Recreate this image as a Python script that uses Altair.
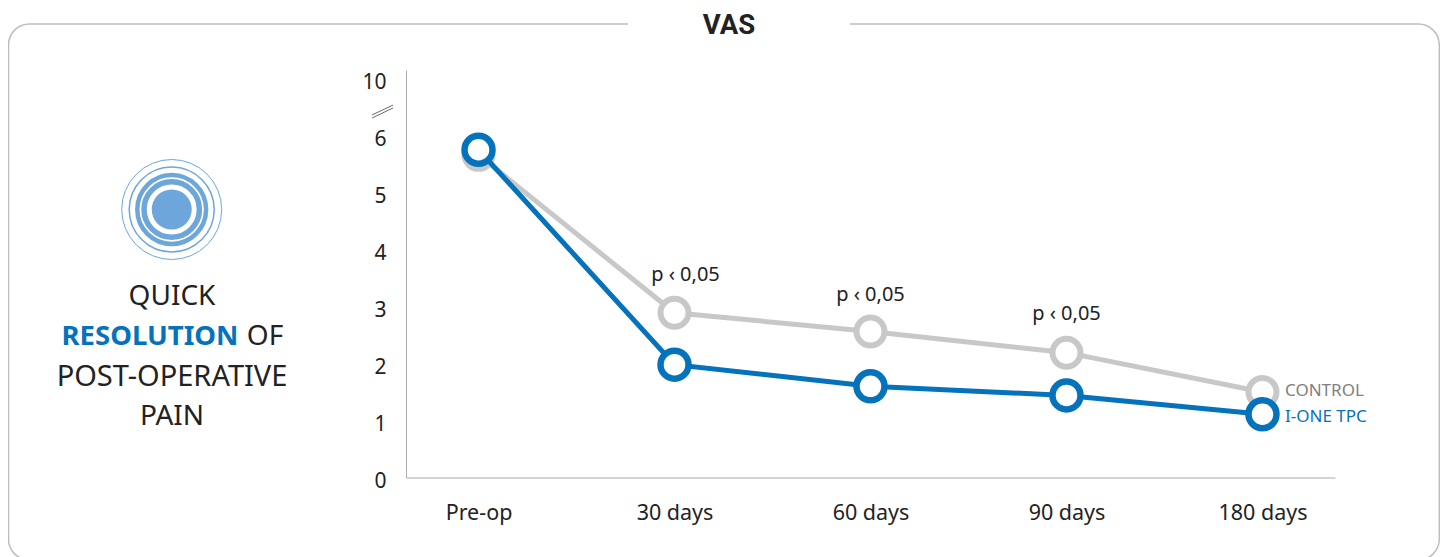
import altair as alt
import pandas as pd

categories = ["Pre-op", "30 days", "60 days", "90 days", "180 days"]
control = [5.66, 2.89, 2.56, 2.19, 1.50]
ione = [5.75, 1.98, 1.60, 1.44, 1.11]
p_text = "p ‹ 0,05"
p_cats = ["30 days", "60 days", "90 days"]
p_vals = [3.56, 3.20, 2.86]

FONT = "Noto Sans"
BLUE = "#0572BC"
GRAY = "#C8C8C8"
ICON = "#6CA6DB"
INK = "#222222"

W, H = 1432, 549

xs = alt.Scale(type="point", domain=categories, range=[398, 1327], padding=0.37)
ys = alt.Scale(domain=[0, 7.149], range=[469.5, 62], nice=False, zero=False)

x_axis = alt.Axis(title=None, orient="bottom", offset=-79.5, ticks=False, grid=False,
                  domainColor="#aaaaaa", domainWidth=1, labelAngle=0, labelFont=FONT,
                  labelFontSize=21.5, labelColor=INK, labelPadding=25)
y_axis = alt.Axis(title=None, orient="left", offset=-398, ticks=False, grid=False,
                  domainColor="#aaaaaa", domainWidth=1, values=[0, 1, 2, 3, 4, 5, 6, 7],
                  labelExpr="datum.value == 7 ? '10' : datum.value", labelFont=FONT,
                  labelFontSize=21, labelColor=INK, labelPadding=20, labelOffset=4,
                  labelFlush=False)

one = pd.DataFrame({"a": [0]})


def txt(s, x, y, size, color=INK, weight="normal", align="center", font=FONT, baseline="middle"):
    return alt.Chart(pd.DataFrame({"t": [s]})).mark_text(
        font=font, fontSize=size, color=color, fontWeight=weight, align=align, baseline=baseline
    ).encode(x=alt.value(x - 8), y=alt.value(y - 8), text="t:N")


def box(x1, x2, y1, y2, **kw):
    return alt.Chart(one).mark_rect(**kw).encode(
        x=alt.value(x1 - 8), x2=alt.value(x2 - 8), y=alt.value(y1 - 8), y2=alt.value(y2 - 8))


def seg(x1, y1, x2, y2):
    return alt.Chart(one).mark_rule(color="#444444", strokeWidth=0.8).encode(
        x=alt.value(x1 - 8), x2=alt.value(x2 - 8), y=alt.value(y1 - 8), y2=alt.value(y2 - 8))


def ring(r, w):
    return alt.Chart(one).mark_point(shape="circle", opacity=1).encode(
        x=alt.value(171.7 - 8), y=alt.value(209.5 - 8), size=alt.value((2 * r) ** 2),
        fill=alt.value("transparent"), stroke=alt.value(ICON), strokeWidth=alt.value(w))


disc = alt.Chart(one).mark_point(shape="circle", opacity=1).encode(
    x=alt.value(171.7 - 8), y=alt.value(209.5 - 8), size=alt.value(1600),
    fill=alt.value(ICON), stroke=alt.value(ICON), strokeWidth=alt.value(0))

frame = box(8.5, 1439.3, 24, 560, fill="transparent", stroke="#bdbdbd", strokeWidth=1.5, cornerRadius=21)
gap = box(628, 850, 18, 32, fill="white")


def series(vals, color, sw):
    d = pd.DataFrame({"cat": categories, "v": vals})
    enc = dict(x=alt.X("cat:N", scale=xs, sort=categories, axis=x_axis),
               y=alt.Y("v:Q", scale=ys, axis=y_axis))
    line = alt.Chart(d).mark_line(color=color, strokeWidth=5).encode(**enc)
    pts = alt.Chart(d).mark_point(shape="circle", opacity=1).encode(
        **enc, size=alt.value(784), fill=alt.value("white"), stroke=alt.value(color),
        strokeWidth=alt.value(sw))
    return line + pts


p_df = pd.DataFrame({"cat": p_cats, "v": p_vals, "t": [p_text] * 3})
pxy = dict(x=alt.X("cat:N", scale=xs, sort=categories, axis=x_axis),
           y=alt.Y("v:Q", scale=ys, axis=y_axis), text="t:N")
p_first = alt.Chart(p_df[p_df.cat == "30 days"]).mark_text(
    font=FONT, fontSize=20, color=INK, dx=11).encode(**pxy)
p_rest = alt.Chart(p_df[p_df.cat != "30 days"]).mark_text(
    font=FONT, fontSize=20, color=INK).encode(**pxy)

chart = alt.layer(
    frame, gap,
    txt("VAS", 729, 34, 27.5, weight="bold", font="Roboto", baseline="alphabetic"),
    ring(50, 1), ring(42.5, 1.5), ring(34.4, 4.5), ring(27.7, 5.5), disc,
    txt("QUICK", 172, 297, 28),
    txt("RESOLUTION", 150, 337, 27.5, color=BLUE, weight="bold"),
    txt("OF", 265, 337, 28),
    txt("POST-OPERATIVE", 172, 377, 29),
    txt("PAIN", 172, 417, 28),
    seg(372, 115, 393, 105), seg(372, 118, 393, 108),
    series(control, GRAY, 6),
    series(ione, BLUE, 6.5),
    p_first, p_rest,
    txt("CONTROL", 1285, 391, 17, color="#7F7F7F", align="left"),
    txt("I-ONE TPC", 1285, 417, 17, color=BLUE, align="left"),
).properties(width=W, height=H, padding=0, autosize=alt.AutoSizeParams(type="none"),
             background="white").configure_view(stroke=None)

chart.save("out.html", embed_options={"renderer": "svg", "actions": False})
